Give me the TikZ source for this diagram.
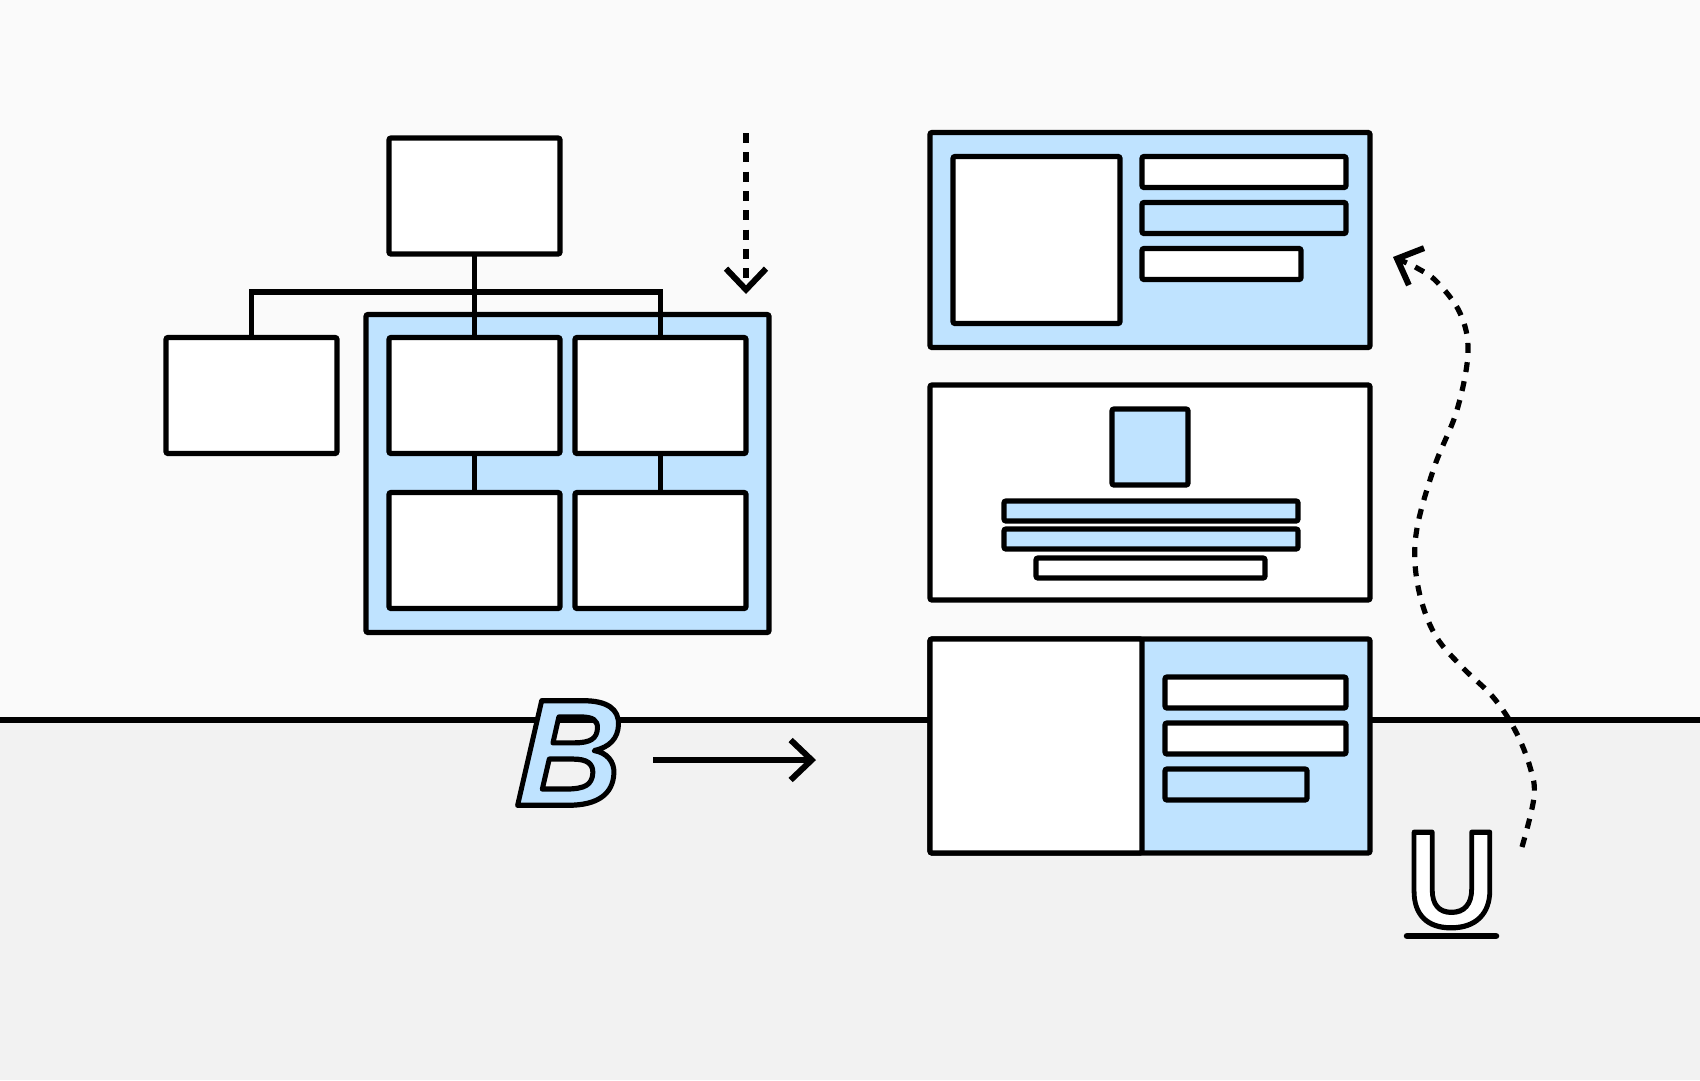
\documentclass[tikz,border=0pt]{standalone}
\usepackage{fontspec}
\setmainfont{Liberation Sans}
\usetikzlibrary{arrows.meta}
\definecolor{skyfill}{HTML}{BFE3FF}
\definecolor{upperbg}{HTML}{FAFAFA}
\definecolor{lowerbg}{HTML}{F2F2F2}
\newcommand{\outlinetext}[1]{\special{pdf:literal direct 2 Tr 5.2 w 1 j 0 0 0 RG}#1\special{pdf:literal direct 0 Tr}}
\tikzstyle{panel} = [draw,line width=5.2pt,rounded corners=2pt,anchor=north west,inner sep=0pt,outer sep=0pt]
\tikzstyle{link} = [draw,line width=5.2pt,-]
\tikzstyle{flow} = [line width=5.2pt,-{Straight Barb[length=21pt,width=40pt,line width=6pt]}]
\tikzstyle{dotflow} = [flow,dash pattern=on 10pt off 9.3pt]
\tikzstyle{glyph} = [inner sep=0pt]

\begin{document}
\begin{tikzpicture}[x=1pt,y=-1pt]
    \useasboundingbox (0,0) rectangle (1700,1080);
    %% backdrop
    \fill[upperbg] (0,0) rectangle (1700,720);
    \fill[lowerbg] (0,720) rectangle (1700,1080);
    \coordinate (horizonl) at (0,720);
    \coordinate (horizonr) at (1700,720);
    \draw[link] (horizonl) -- (horizonr);
    %% tree on the left
    \node[panel, fill=skyfill, minimum width=403pt, minimum height=318pt] (group) at (366,314.5) {};
    \coordinate (hub) at (475,292);
    \foreach \nodename/\x/\y in {
      root/389/138, side/166/337.5, midl/389/337.5, midr/575/337.5, lowl/389/492.5, lowr/575/492.5}
    {
      \node[panel, fill=white, minimum width=171pt, minimum height=116pt] (\nodename) at (\x,\y) {};
    }
    \path
    \foreach \startnode/\endnode in {
      root/midl, midl/lowl, midr/lowr}
    {
      (\startnode) edge[link] (\endnode)
    };
    \draw[link] (hub) -| (side.north);
    \draw[link] (hub) -| (midr.north);
    %% three layouts on the right
    \foreach \nodename/\x/\y/\w/\h/\tone in {
      cardtop/930/132.5/440/215/skyfill,
      thumbtop/953/156.5/167/167/white,
      bartopa/1142/156.5/204/31/white,
      bartopb/1142/202.5/204/31/skyfill,
      bartopc/1142/248.5/159/31/white,
      cardmid/930/385/440/215/white,
      thumbmid/1112/409/76/76/skyfill,
      barmida/1004/501/294/20/skyfill,
      barmidb/1004/529/294/20/skyfill,
      barmidc/1036/558/229/20/white,
      cardlow/930/639/440/214/skyfill,
      thumblow/930/639/212/214/white,
      barlowa/1165/677/181/31/white,
      barlowb/1165/723/181/31/white,
      barlowc/1165/769/142/31/skyfill}
    {
      \node[panel, fill=\tone, minimum width=\w pt, minimum height=\h pt] (\nodename) at (\x,\y) {};
    }
    %% letters
    \node[glyph, text=skyfill, xscale=0.96, xslant=0.045, transform shape, font=\fontsize{152}{152}\bfseries\itshape] (boldmark) at (570,753) {\outlinetext{B}};
    \node[glyph, text=white, xscale=0.92, transform shape, font=\fontsize{137}{137}\bfseries] (underlinemark) at (1452,880) {\outlinetext{U}};
    \coordinate (rulel) at (1407,936);
    \coordinate (ruler) at (1496,936);
    \draw[line width=6.5pt,line cap=round] (rulel) -- (ruler);
    %% arrows
    \coordinate (flowa) at (653,760);
    \coordinate (flowb) at (816,760);
    \draw[flow] (flowa) -- (flowb);
    \coordinate (dropa) at (746,133);
    \coordinate (dropb) at (746,294);
    \draw[dotflow] (dropa) -- (dropb);
    \coordinate (curvea) at (1522,847);
    \coordinate (curveb) at (1393,257);
    \draw[dotflow] plot[smooth,tension=0.6] coordinates {
      (curvea) (1534,797) (1530,767) (1515,730) (1493,697) (1463,668) (1437,638)
      (1422,603) (1415,563) (1418,523) (1435,465) (1457,410) (1468,352)
      (1460,313) (1437,282) (1417,268) (curveb)};
\end{tikzpicture}
\end{document}
